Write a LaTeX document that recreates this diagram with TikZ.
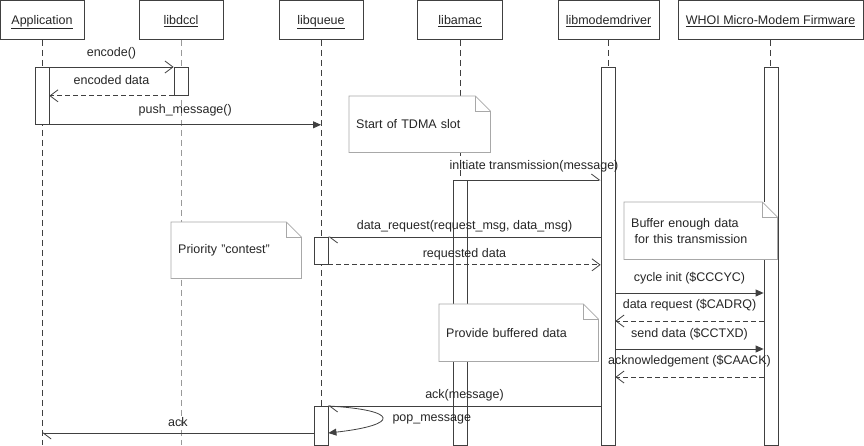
\documentclass[tikz,border=0pt]{standalone}
\usepackage{fontspec}
\setmainfont{Liberation Sans}
\usetikzlibrary{arrows.meta}
\definecolor{linegray}{HTML}{404040}
\definecolor{notegray}{HTML}{A8A8A8}
\definecolor{textgray}{HTML}{262626}
\tikzset{
  head/.style={draw=linegray, line width=0.8pt, minimum height=39pt, inner sep=0pt, text depth=0pt, anchor=north},
  life/.style={draw=linegray, line width=0.8pt, dash pattern=on 6pt off 4pt},
  act/.style={draw=linegray, fill=white, line width=0.8pt, minimum width=14pt, inner sep=0pt, anchor=north},
  note/.style={fill=white, inner xsep=7pt, inner ysep=0pt, align=left, anchor=north west},
  notel/.style={draw=notegray, line width=0.8pt},
  lbl/.style={inner sep=0pt, text height=9pt, text depth=2.5pt},
  msg/.style={draw=linegray, line width=0.8pt, -{Straight Barb[length=8pt,width=12pt]}},
  msgfill/.style={draw=linegray, line width=0.8pt, -{Triangle[length=8pt,width=7pt]}},
  msghalf/.style={draw=linegray, line width=0.8pt, -{Straight Barb[left,length=8pt,width=12pt]}},
  reply/.style={msg, dash pattern=on 5pt off 3pt}
}
\begin{document}
\begin{tikzpicture}[x=1pt,y=-1pt,every node/.style={font=\fontsize{12.5pt}{16pt}\selectfont,text=textgray}]
    \useasboundingbox (0,0) rectangle (864,445);
    \coordinate (bottom) at (0,445);
    \coordinate (m1) at (0,293);
    \coordinate (m2) at (0,321);
    \coordinate (m3) at (0,349);
    \coordinate (m4) at (0,377);
    \coordinate (popend) at (0,433);
    \node[head, minimum width=84pt] (app) at (42,0) {\underline{Application}};
    \node[head, minimum width=84pt] (dccl) at (181,0) {\underline{libdccl}};
    \node[head, minimum width=84pt] (queue) at (321,0) {\underline{libqueue}};
    \node[head, minimum width=85pt] (amac) at (460,0) {\underline{libamac}};
    \node[head, minimum width=101pt] (modem) at (608.5,0) {\underline{libmodemdriver}};
    \node[head, minimum width=185pt] (whoi) at (770.5,0) {\underline{WHOI Micro-Modem Firmware}};
    \draw[life] (app.south) -- (app.south |- bottom);
    \draw[life, draw=black!40] (dccl.south) -- (dccl.south |- bottom);
    \draw[life] (queue.south) -- (queue.south |- bottom);
    \draw[life] (amac.south) -- (amac.south |- bottom);
    \draw[life] (modem.south) -- (modem.south |- bottom);
    \draw[life] (whoi.south) -- (whoi.south |- bottom);
    \node[act, minimum height=57pt] (appact) at (42,67) {};
    \node[act, minimum height=28pt] (dcclact) at (181,67) {};
    \node[act, minimum height=27pt] (queueact) at (321,237) {};
    \node[act, minimum height=39pt] (queueact2) at (321,406) {};
    \node[act, minimum height=265pt] (amacact) at (460,180) {};
    \node[act, minimum height=378pt] (modemact) at (608,67) {};
    \node[act, minimum height=378pt] (whoiact) at (771,67) {};
    \node[note, text width=127pt, minimum height=56pt] (tdma) at (349,96) {Start of TDMA slot};
    \draw[notel] (tdma.north west) -- ([xshift=-15pt]tdma.north east) -- ([yshift=-15pt]tdma.north east) -- (tdma.south east) -- (tdma.south west) -- cycle;
    \draw[notel] ([xshift=-15pt]tdma.north east) |- ([yshift=-15pt]tdma.north east);
    \node[note, text width=116pt, minimum height=56pt] (contest) at (171,222) {Priority "contest"};
    \draw[notel] (contest.north west) -- ([xshift=-15pt]contest.north east) -- ([yshift=-15pt]contest.north east) -- (contest.south east) -- (contest.south west) -- cycle;
    \draw[notel] ([xshift=-15pt]contest.north east) |- ([yshift=-15pt]contest.north east);
    \node[note, text width=139pt, minimum height=57pt] (buffer) at (624,202) {Buffer enough data\\\hspace*{3.5pt}for this transmission};
    \draw[notel] (buffer.north west) -- ([xshift=-15pt]buffer.north east) -- ([yshift=-15pt]buffer.north east) -- (buffer.south east) -- (buffer.south west) -- cycle;
    \draw[notel] ([xshift=-15pt]buffer.north east) |- ([yshift=-15pt]buffer.north east);
    \node[note, text width=145pt, minimum height=57pt] (provide) at (439,304) {Provide buffered data};
    \draw[notel] (provide.north west) -- ([xshift=-15pt]provide.north east) -- ([yshift=-15pt]provide.north east) -- (provide.south east) -- (provide.south west) -- cycle;
    \draw[notel] ([xshift=-15pt]provide.north east) |- ([yshift=-15pt]provide.north east);
    \draw[msg] (appact.north east) -- (dcclact.north west) node[lbl, midway, above=8pt] {encode()};
    \draw[reply] (dcclact.south west) -- (appact.east |- dcclact.south) node[lbl, midway, above=8pt] {encoded data};
    \draw[msgfill] (appact.south east) -- (queue |- appact.south) node[lbl, midway, above=8pt] {push\_message()};
    \draw[msghalf] (amacact.north east) -- (modemact.west |- amacact.north) node[lbl, midway, above=8pt] {initiate transmission(message)};
    \draw[msghalf] (modemact.west |- queueact.north) -- (queueact.north east) node[lbl, midway, above=5pt] {data\_request(request\_msg, data\_msg)};
    \draw[reply] (queueact.south east) -- (modemact.west |- queueact.south) node[lbl, midway, above=4pt] {requested data};
    \draw[msgfill] (modemact.east |- m1) -- (whoiact.west |- m1) node[lbl, midway, above=9pt] {cycle init (\$CCCYC)};
    \draw[reply] (whoiact.west |- m2) -- (modemact.east |- m2) node[lbl, midway, above=10pt] {data request (\$CADRQ)};
    \draw[msgfill] (modemact.east |- m3) -- (whoiact.west |- m3) node[lbl, midway, above=9pt] {send data (\$CCTXD)};
    \draw[reply] (whoiact.west |- m4) -- (modemact.east |- m4) node[lbl, midway, above=10pt] {acknowledgement (\$CAACK)};
    \draw[msghalf] (modemact.west |- queueact2.north) -- (queueact2.north east) node[lbl, midway, above=5pt] {ack(message)};
    \draw[msgfill] (queueact2.north east) .. controls (400,410) and (400,425) .. (queueact2.east |- popend) node[lbl, pos=0.5, right=10pt] {pop\_message};
    \draw[msghalf] (queueact2.west |- popend) -- (app |- popend) node[lbl, midway, above=4pt] {ack};
\end{tikzpicture}
\end{document}
